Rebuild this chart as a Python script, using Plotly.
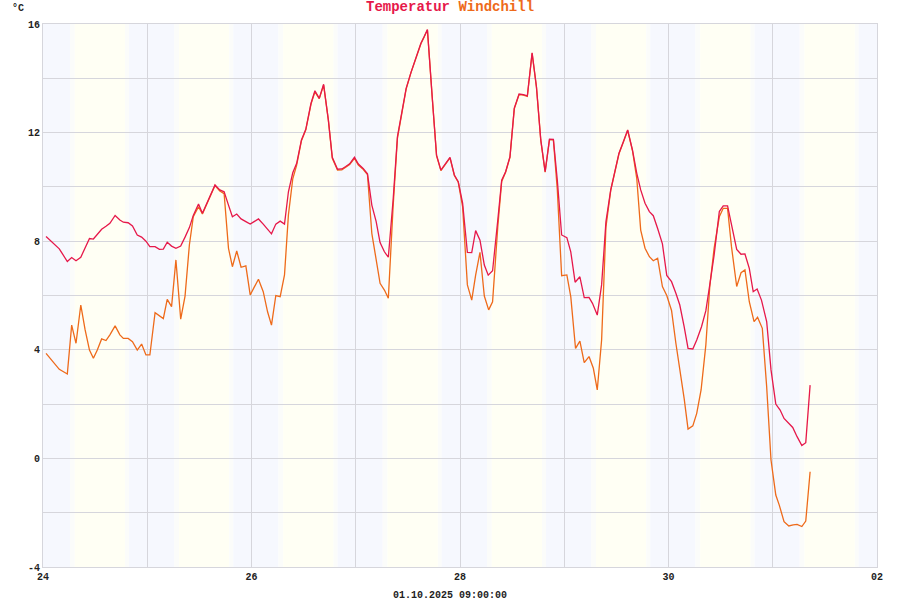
import datetime as dt
import plotly.graph_objects as go

temp_hours = [0.7, 2.4, 3.75, 4.3, 5.6, 6.6, 7.6, 8.7, 9.7, 10.7, 11.6, 12.5, 13.5, 14.5, 15.4, 16.6,
              17.7, 18.5, 19.6, 20.6, 21.7, 22.7, 23.7, 24.6, 25.8, 26.8, 27.7, 28.6, 29.6, 30.6, 31.7,
              32.7, 33.7, 34.6, 35.8, 36.7, 37.7, 38.6, 39.6, 40.7, 41.7, 42.7, 43.6, 44.6, 45.6, 46.7,
              47.7, 48.6, 49.6, 50.7, 51.7, 52.6, 53.6, 54.6, 55.6, 56.5, 57.5, 58.4, 59.5, 60.5, 61.7,
              62.6, 63.6, 64.6, 65.7, 66.6, 67.8, 68.8, 69.7, 70.6, 71.7, 72.6, 73.7, 74.7, 75.7, 76.7,
              77.6, 78.6, 79.5, 80.6, 81.6, 82.6, 83.6, 84.7, 85.9, 87.0, 87.7, 88.5, 89.6, 90.6, 91.6,
              92.7, 93.7, 94.7, 95.6, 96.6, 97.7, 98.7, 99.6, 100.6, 101.6, 102.5, 103.5, 104.7, 105.6,
              106.5, 107.5, 108.5, 109.6, 110.6, 111.5, 112.6, 113.6, 114.6, 115.6, 116.6, 117.5, 118.4,
              119.4, 120.6, 121.5, 122.5, 123.6, 124.6, 125.7, 126.5, 127.6, 128.6, 129.6, 130.7, 131.7,
              132.6, 133.6, 134.6, 135.7, 136.7, 137.6, 138.6, 139.6, 140.5, 141.5, 142.6, 143.6, 144.7,
              145.7, 146.6, 147.6, 148.5, 149.6, 150.5, 151.6, 152.6, 153.5, 154.5, 155.7, 156.6, 157.6,
              158.5, 159.7, 160.7, 161.6, 162.6, 163.5, 164.4, 165.4, 166.6, 167.6, 168.7, 169.7, 170.6,
              171.6, 172.6, 173.6, 174.7, 175.6, 176.6]
temp_vals = [8.17, 7.92, 7.72, 7.58, 7.25, 7.4, 7.28, 7.41, 7.76, 8.1, 8.08, 8.27, 8.44, 8.55, 8.66, 8.95,
             8.78, 8.7, 8.68, 8.56, 8.23, 8.15, 8.0, 7.8, 7.8, 7.7, 7.71, 7.96, 7.82, 7.74, 7.82,
             8.15, 8.5, 8.95, 9.37, 9.03, 9.4, 9.75, 10.07, 9.89, 9.82, 9.33, 8.9, 9.0, 8.82, 8.72,
             8.63, 8.72, 8.82, 8.63, 8.45, 8.27, 8.63, 8.74, 8.63, 9.82, 10.52, 10.87, 11.73, 12.12, 13.08,
             13.54, 13.26, 13.78, 12.46, 11.09, 10.65, 10.66, 10.75, 10.85, 11.09, 10.84, 10.68, 10.48, 9.33, 8.72,
             7.95, 7.61, 7.41, 9.52, 11.85, 12.71, 13.63, 14.21, 14.8, 15.29, 15.52, 15.8, 13.32, 11.17, 10.62,
             10.87, 11.09, 10.44, 10.19, 9.4, 7.59, 7.58, 8.39, 8.04, 7.12, 6.75, 6.91, 8.78, 10.25,
             10.56, 11.11, 12.9, 13.42, 13.4, 13.35, 14.94, 13.69, 11.73, 10.56, 11.76, 11.75, 10.25,
             8.23, 8.13, 7.61, 6.49, 6.69, 5.92, 5.93, 5.71, 5.28, 6.39, 8.72, 9.89, 10.56,
             11.24, 11.66, 12.1, 11.36, 10.5, 9.89, 9.4, 9.09, 8.94, 8.47, 7.9, 6.74, 6.51,
             6.08, 5.65, 4.85, 4.05, 4.03, 4.36, 4.85, 5.44, 6.39, 7.49, 9.09, 9.3, 9.3,
             8.66, 7.7, 7.52, 7.53, 7.0, 6.14, 6.24, 5.83, 5.04, 3.26, 2.0, 1.78, 1.47,
             1.29, 1.14, 0.8, 0.47, 0.58, 2.7]

chill_hours = [0.7, 2.4, 3.75, 5.6, 6.6, 7.6, 8.7, 9.7, 10.7, 11.6, 12.5, 13.5, 14.5, 15.4, 16.6, 17.7,
               18.5, 19.6, 20.6, 21.7, 22.7, 23.7, 24.6, 25.8, 26.8, 27.7, 28.6, 29.6, 30.6, 31.7, 32.7,
               33.7, 34.6, 35.8, 36.7, 37.7, 38.6, 39.6, 40.7, 41.7, 42.7, 43.6, 44.6, 45.6, 46.7, 47.7,
               48.6, 49.6, 50.7, 51.7, 52.6, 53.6, 54.6, 55.6, 56.5, 57.5, 58.4, 59.5, 60.5, 61.7, 62.6,
               63.6, 64.6, 65.7, 66.6, 67.8, 68.8, 69.7, 70.6, 71.7, 72.6, 73.7, 74.7, 75.7, 76.7, 77.6,
               78.6, 79.5, 80.6, 81.6, 82.6, 83.6, 84.7, 85.9, 87.0, 87.7, 88.5, 89.6, 90.6, 91.6, 92.7,
               93.7, 94.7, 95.6, 96.6, 97.7, 98.7, 99.6, 100.6, 101.6, 102.6, 103.5, 104.7, 105.6, 106.5,
               107.5, 108.5, 109.6, 110.6, 111.5, 112.6, 113.6, 114.6, 115.6, 116.6, 117.5, 118.4, 119.4,
               120.6, 121.5, 122.6, 123.6, 124.6, 125.7, 126.7, 127.6, 128.6, 129.6, 130.7, 131.7, 132.6,
               133.6, 134.6, 135.7, 136.7, 137.6, 138.6, 139.6, 140.5, 141.5, 142.6, 143.6, 144.7, 145.7,
               146.6, 147.6, 148.5, 149.6, 150.5, 151.5, 152.6, 153.5, 154.5, 155.7, 156.6, 157.6, 158.5,
               159.7, 160.7, 161.6, 162.6, 163.7, 164.5, 165.6, 166.6, 167.6, 168.7, 169.5, 170.6, 171.7,
               172.7, 173.6, 174.7, 175.6, 176.6]
chill_vals = [3.87, 3.56, 3.28, 3.11, 4.91, 4.24, 5.65, 4.73, 3.99, 3.69, 3.99, 4.4, 4.34, 4.55, 4.88, 4.55,
              4.42, 4.42, 4.3, 3.99, 4.21, 3.81, 3.81, 5.37, 5.26, 5.15, 5.86, 5.59, 7.31, 5.13, 5.98,
              7.86, 8.9, 9.27, 9.0, 9.35, 9.7, 10.05, 9.85, 9.75, 7.74, 7.06, 7.64, 7.04, 7.09, 6.02,
              6.3, 6.6, 6.14, 5.4, 4.91, 6.0, 5.96, 6.76, 8.97, 10.3, 10.8, 11.7, 12.1, 13.05, 13.5,
              13.25, 13.75, 12.45, 11.05, 10.62, 10.63, 10.72, 10.82, 11.05, 10.8, 10.65, 10.45, 8.29, 7.31, 6.45,
              6.2, 5.9, 9.27, 11.8, 12.7, 13.6, 14.2, 14.78, 15.27, 15.5, 15.78, 13.3, 11.15, 10.6, 10.85,
              11.07, 10.42, 10.17, 9.27, 6.39, 5.83, 6.75, 7.59, 5.98, 5.47, 5.77, 8.53, 10.2, 10.54,
              11.09, 12.88, 13.4, 13.38, 13.33, 14.92, 13.67, 11.71, 10.54, 11.74, 11.73, 9.9, 6.73,
              6.76, 5.96, 4.05, 4.32, 3.53, 3.75, 3.32, 2.52, 4.36, 8.53, 9.87, 10.54, 11.22,
              11.64, 12.08, 11.34, 10.3, 8.41, 7.74, 7.43, 7.28, 7.37, 6.33, 6.0, 5.45, 4.24,
              3.32, 2.21, 1.08, 1.2, 1.66, 2.52, 4.18, 6.33, 7.74, 8.9, 9.21, 9.21, 7.8,
              6.33, 6.84, 6.94, 5.77, 5.04, 5.2, 4.79, 2.64, -0.06, -1.35, -1.72, -2.33, -2.49,
              -2.45, -2.43, -2.51, -2.31, -0.49]

x_tick_days = ["24", "", "26", "", "28", "", "30", "", "02"]
y_tick_vals = [-4, -2, 0, 2, 4, 6, 8, 10, 12, 14, 16]
y_tick_text = ["-4", "", "0", "", "4", "", "8", "", "12", "", "16"]

start = dt.datetime(2025, 9, 24)
temp_x = [start + dt.timedelta(hours=h) for h in temp_hours]
chill_x = [start + dt.timedelta(hours=h) for h in chill_hours]

RED = "#E6184A"
ORANGE = "#EE6A1A"
MONO = "Liberation Mono"
TXT = "#222222"

fig = go.Figure()
# Windchill zuerst, damit die Temperatur bei Ueberdeckung oben liegt
fig.add_trace(go.Scatter(x=chill_x, y=chill_vals, mode="lines", name="Windchill",
                         line=dict(color=ORANGE, width=1.3)))
fig.add_trace(go.Scatter(x=temp_x, y=temp_vals, mode="lines", name="Temperatur",
                         line=dict(color=RED, width=1.3)))

# Tag/Nacht-Hintergrund (Nacht blaeulich, Tag gelblich, Daemmerung dazwischen)
night = "#F6F8FE"
twilight = "#FBFCFA"
day = "#FFFFF4"
bands = [(0, 6.2, night), (6.2, 7.3, twilight), (7.3, 18.9, day), (18.9, 19.8, twilight), (19.8, 24, night)]
for d in range(8):
    base = start + dt.timedelta(days=d)
    for a, b, col in bands:
        fig.add_shape(type="rect", xref="x", yref="paper",
                      x0=base + dt.timedelta(hours=a), x1=base + dt.timedelta(hours=b),
                      y0=0, y1=1, fillcolor=col, line_width=0, layer="below")

axis_style = dict(
    showgrid=True, gridcolor="#D6D6DC", gridwidth=1.2,
    showline=True, linecolor="#D6D6DC", linewidth=1.2, mirror=True,
    ticks="", zeroline=False,
    tickfont=dict(family=MONO, size=10, color=TXT),
)
fig.update_xaxes(
    range=[start, start + dt.timedelta(days=8)],
    tickvals=[start + dt.timedelta(days=d) for d in range(9)],
    ticktext=[f"<b>{t}</b>" if t else "" for t in x_tick_days],
    **axis_style,
)
fig.update_yaxes(
    range=[-4, 16],
    tickvals=y_tick_vals,
    ticktext=[f"<b>{t}</b>" if t else "" for t in y_tick_text],
    **axis_style,
)

fig.update_layout(
    width=900, height=600,
    margin=dict(l=43, r=23, t=24, b=33, autoexpand=False),
    paper_bgcolor="white", plot_bgcolor="white",
    showlegend=False,
    font=dict(family=MONO),
    annotations=[
        dict(text=f"<b><span style='color:{RED}'>Temperatur</span> "
                  f"<span style='color:{ORANGE}'>Windchill</span></b>",
             xref="paper", yref="paper", x=(450 - 43) / 834, y=(567 - 7) / 543,
             xanchor="center", yanchor="middle", showarrow=False,
             font=dict(family=MONO, size=14)),
        dict(text="<b>°C</b>", xref="paper", yref="paper",
             x=(18 - 43) / 834, y=(567 - 8) / 543, xanchor="center", yanchor="middle",
             showarrow=False, font=dict(family=MONO, size=10, color=TXT)),
        dict(text="<b>01.10.2025 09:00:00</b>", xref="paper", yref="paper",
             x=(450 - 43) / 834, y=(567 - 595) / 543, xanchor="center", yanchor="middle",
             showarrow=False, font=dict(family=MONO, size=10, color=TXT)),
    ],
)

# Seitenrand des Browsers entfernen, damit das Bild bei (0,0) beginnt
fig.write_html("out.html", config={"displayModeBar": False},
               post_script="document.body.style.margin='0px';")
